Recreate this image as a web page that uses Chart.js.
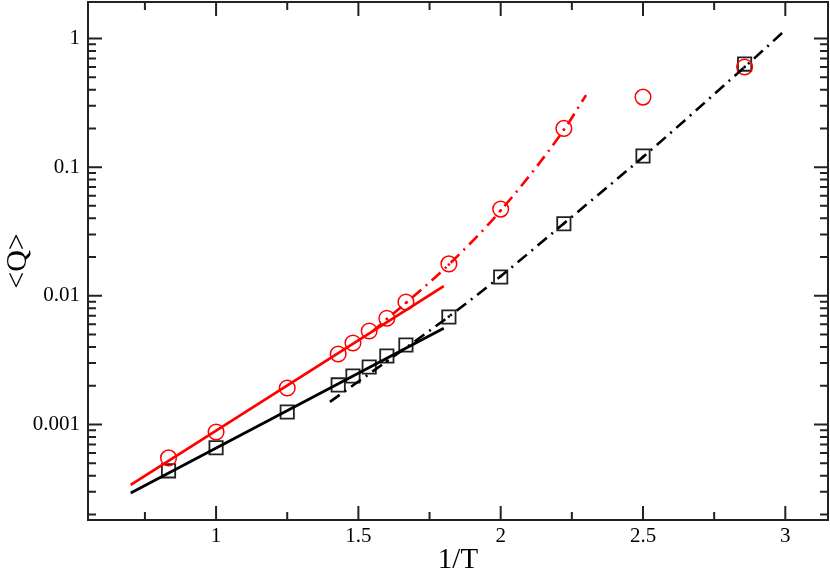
<!DOCTYPE html>
<html><head><meta charset="utf-8">
<script src="https://cdn.jsdelivr.net/npm/chart.js@4/dist/chart.umd.min.js"></script>
<style>html,body{margin:0;padding:0;background:#fff;}#wrap{width:830px;height:573px;}</style>
</head><body><div id="wrap"><canvas id="c" width="830" height="573"></canvas></div>
<script>
// ---- data ----
const invT      = [0.833, 1.0, 1.25, 1.429, 1.481, 1.538, 1.6, 1.667, 1.818, 2.0, 2.222, 2.5, 2.857];
const qCircles  = [5.5e-4, 8.75e-4, 1.92e-3, 3.53e-3, 4.3e-3, 5.33e-3, 6.7e-3, 8.96e-3, 0.0177, 0.0472, 0.2, 0.35, 0.6];
const qSquares  = [4.36e-4, 6.6e-4, 1.25e-3, 2.03e-3, 2.38e-3, 2.8e-3, 3.41e-3, 4.15e-3, 6.84e-3, 0.014, 0.0363, 0.122, 0.632];
const redFitX   = [0.7, 1.8];
const redFitY   = [3.39e-4, 0.0119];
const blackFitX = [0.7, 1.8];
const blackFitY = [2.94e-4, 5.6e-3];
const redCurveX = [1.55, 1.6, 1.667, 1.818, 2.0, 2.222, 2.3];
const redCurveY = [5.3e-3, 6.6e-3, 8.8e-3, 0.0175, 0.046, 0.195, 0.363];
const blackCurveX = [1.4, 1.6, 1.818, 2.0, 2.222, 2.5, 2.857, 3.0];
const blackCurveY = [1.5e-3, 3.1e-3, 6.9e-3, 0.0142, 0.0365, 0.12, 0.6, 1.16];
const xMajor = [1, 1.5, 2, 2.5, 3];
const xMinor = [0.75, 1.25, 1.75, 2.25, 2.75];
const yMajor = [0.001, 0.01, 0.1, 1];
const yLabels = ['0.001', '0.01', '0.1', '1'];
const xLabels = ['1', '1.5', '2', '2.5', '3'];

const pts = (xs, ys) => xs.map((x, i) => ({x: x, y: ys[i]}));
const SERIF = "'Liberation Serif', 'Times New Roman', serif";

const frameTicks = {
  id: 'frameTicks',
  afterDraw(chart) {
    const {ctx, chartArea: a, scales: {x, y}} = chart;
    ctx.save();
    ctx.strokeStyle = '#222';
    ctx.lineWidth = 2;
    ctx.beginPath();
    const tick = (px, len, horizontal) => {
      if (horizontal) {
        ctx.moveTo(px, a.bottom); ctx.lineTo(px, a.bottom - len);
        ctx.moveTo(px, a.top); ctx.lineTo(px, a.top + len);
      } else {
        ctx.moveTo(a.left, px); ctx.lineTo(a.left + len, px);
        ctx.moveTo(a.right, px); ctx.lineTo(a.right - len, px);
      }
    };
    xMajor.forEach(v => tick(x.getPixelForValue(v), 14, true));
    xMinor.forEach(v => tick(x.getPixelForValue(v), 8, true));
    for (let e = -4; e <= 0; e++) {
      for (let k = 1; k <= 9; k++) {
        const v = k * Math.pow(10, e);
        if (v < y.min || v > y.max) continue;
        tick(y.getPixelForValue(v), k === 1 ? 14 : 8, false);
      }
    }
    ctx.stroke();
    ctx.strokeRect(a.left, a.top, a.right - a.left, a.bottom - a.top);
    ctx.restore();
  }
};

const dotR = (n) => (c) => (c.dataIndex > 0 && c.dataIndex < n - 1) ? 1.4 : 0;
const noPad = s => { s.paddingTop = 0; s.paddingBottom = 0; s.paddingLeft = 0; s.paddingRight = 0; };

new Chart(document.getElementById('c'), {
  type: 'line',
  data: {
    datasets: [
      {data: pts(redFitX, redFitY), borderColor: '#ff0000', borderWidth: 2.8, pointRadius: 0, fill: false},
      {data: pts(blackFitX, blackFitY), borderColor: '#000', borderWidth: 2.8, pointRadius: 0, fill: false},
      {data: pts(redCurveX, redCurveY), borderColor: '#ff0000', borderWidth: 2.6, borderDash: [12, 6, 2, 6],
       cubicInterpolationMode: 'monotone', pointRadius: dotR(redCurveX.length), pointBackgroundColor: '#ff0000', pointBorderWidth: 0, fill: false},
      {data: pts(blackCurveX, blackCurveY), borderColor: '#000', borderWidth: 2.6, borderDash: [12, 6, 2, 6],
       cubicInterpolationMode: 'monotone', pointRadius: dotR(blackCurveX.length), pointBackgroundColor: '#000', pointBorderWidth: 0, fill: false},
      {data: pts(invT, qCircles), showLine: false, pointStyle: 'circle', pointRadius: 7.8,
       borderColor: '#ff0000', pointBorderColor: '#ff0000', pointBackgroundColor: 'rgba(0,0,0,0)', pointBorderWidth: 1.5},
      {data: pts(invT, qSquares), showLine: false, pointStyle: 'rect', pointRadius: 9.4,
       borderColor: '#222', pointBorderColor: '#222', pointBackgroundColor: 'rgba(0,0,0,0)', pointBorderWidth: 1.8}
    ]
  },
  options: {
    responsive: false, animation: false, devicePixelRatio: 1,
    layout: {autoPadding: false, padding: {top: 2, right: 2, left: 0, bottom: 0}},
    plugins: {legend: {display: false}, tooltip: {enabled: false}},
    elements: {line: {borderCapStyle: 'butt'}},
    scales: {
      x: {
        type: 'linear', min: 0.55, max: 3.15,
        afterBuildTicks: s => { s.ticks = xMajor.map(v => ({value: v})); },
        afterFit: s => { s.height = 53; noPad(s); },
        ticks: {font: {family: SERIF, size: 21}, color: '#000', padding: 4, maxRotation: 0,
                callback: (v) => xLabels[xMajor.indexOf(v)] ?? ''},
        grid: {display: false, drawTicks: false},
        border: {display: false},
        title: {display: true, text: '1/T', font: {family: SERIF, size: 29, lineHeight: 0.9}, color: '#000', padding: 0}
      },
      y: {
        type: 'logarithmic', min: 1.81e-4, max: 1.92,
        afterBuildTicks: s => { s.ticks = yMajor.map(v => ({value: v})); },
        afterFit: s => { s.width = 88; noPad(s); },
        ticks: {font: {family: SERIF, size: 21}, color: '#000', padding: 8,
                callback: (v) => { const i = yMajor.findIndex(m => Math.abs(m - v) / m < 1e-6); return i >= 0 ? yLabels[i] : ''; }},
        grid: {display: false, drawTicks: false},
        border: {display: false},
        title: {display: true, text: '<Q>', font: {family: SERIF, size: 30}, color: '#000', padding: {top: 0, bottom: 0}}
      }
    }
  },
  plugins: [frameTicks]
});
</script></body></html>
